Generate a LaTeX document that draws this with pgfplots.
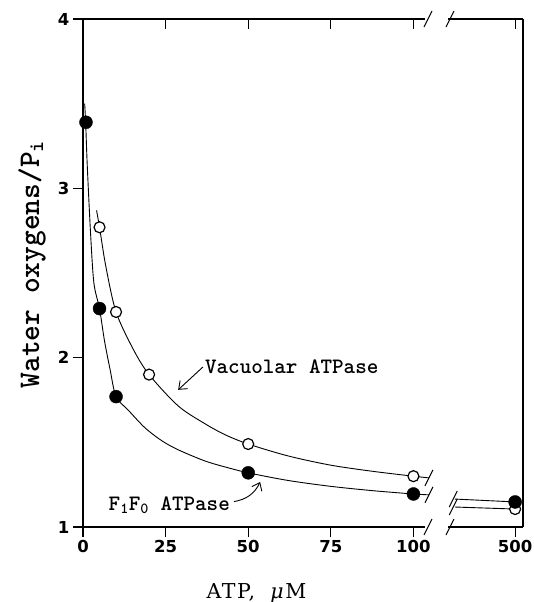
\documentclass[border=0pt]{standalone}
\usepackage{fontspec}
\usepackage{pgfplots}
\usepackage{pgfplotstable}
\pgfplotsset{compat=1.18}
\usetikzlibrary{arrows.meta}
\newfontfamily\ticksf{DejaVu Sans}
\newfontfamily\xlabf{DejaVu Serif}[LetterSpace=8]

% fitted curves
\pgfplotstableread{
x y
0.5 3.50
0.8 3.39
1.3 3.13
2.3 2.73
3.3 2.44
5 2.29
6.5 2.10
8.2 1.93
10 1.77
13.7 1.69
18.8 1.585
23.8 1.51
28.8 1.456
36.9 1.39
43.5 1.352
50 1.32
62 1.275
75 1.24
88 1.214
100 1.195
104.7 1.19
}\fcurve
\pgfplotstableread{
x y
4.1 2.87
5 2.77
6.9 2.54
10 2.27
15.2 2.05
20 1.90
28.8 1.715
36.9 1.61
43 1.545
50 1.49
62 1.42
75 1.365
88 1.328
100 1.30
104.7 1.29
}\vcurve
% measured points
\pgfplotstableread{
x y
0.9 3.39
5 2.29
10 1.77
50 1.32
100 1.195
}\fpts
\pgfplotstableread{
x y
5 2.77
10 2.27
20 1.90
50 1.49
100 1.30
}\vpts

\tikzset{brk/.style={line width=1pt}}

\begin{document}
\begin{tikzpicture}
\path[use as bounding box] (-83pt,-75pt) rectangle (451pt,527pt);
\pgfplotsset{
  panel/.style={
    scale only axis, height=508pt, ymin=1, ymax=4, clip=false,
    separate axis lines,
    axis line style={line width=1.1pt},
    major tick style={line width=1.1pt, black},
    major tick length=10pt,
    tick label style={font=\ticksf\bfseries\fontsize{16.5}{16.5}\selectfont},
    /pgf/number format/assume math mode=true,
  },
  curve/.style={black, line width=0.9pt},
  fmark/.style={only marks, mark=*, mark size=6.5pt, black},
  vmark/.style={only marks, mark=*, mark size=5.5pt,
    mark options={draw=black, fill=white, line width=1.2pt}},
}
% main panel
\begin{axis}[panel, at={(0pt,0pt)}, anchor=south west, width=342pt,
  xmin=0, xmax=103.5,
  axis x line*=bottom, axis y line*=left, tick align=outside,
  xtick={0,25,50,75,100}, ytick={1,2,3,4},
  ylabel={Water oxygens/P\textsubscript{i}},
  ylabel style={at={(axis description cs:-0.149,0.517)}, anchor=center,
    font=\ttfamily\bfseries\fontsize{30}{30}\selectfont},
]
  \addplot[curve, smooth, tension=0.5] table {\fcurve};
  \addplot[curve, smooth, tension=0.5] table {\vcurve};
  \addplot[fmark] table {\fpts};
  \addplot[vmark] table {\vpts};
  % broken-axis marks
  \draw[brk, shift={(axis cs:104.4,1)}] (-4pt,-8pt) -- (4pt,8pt);
  \draw[brk, shift={(axis cs:104.4,4)}] (-4pt,-8pt) -- (4pt,8pt);
  \draw[brk, shift={(axis cs:104.7,1.29)}] (-4pt,-8pt) -- (4pt,8pt);
  \draw[brk, shift={(axis cs:104.7,1.19)}] (-4pt,-8pt) -- (4pt,8pt);
  % x axis title
  \node[anchor=base, inner sep=0, font=\xlabf\fontsize{20.5}{20.5}\selectfont]
    at (axis cs:52.5,0.58) {ATP,\hspace{0.35em} \textit{μ}M};
  % labels
  \node[anchor=west, inner sep=0, font=\ttfamily\bfseries\fontsize{22}{22}\selectfont]
    at (axis cs:36.9,1.945) {Vacuolar ATPase};
  \draw[line width=0.9pt, -{Straight Barb[length=7pt,width=11pt]}]
    (axis cs:36.3,1.945) -- (axis cs:28.8,1.81);
  \node[anchor=base east, inner sep=0, font=\ttfamily\bfseries\fontsize{22}{22}\selectfont]
    at (axis cs:44.5,1.10) {F\textsubscript{1}F\textsubscript{0} ATPase};
  \draw[line width=0.9pt, -{Straight Barb[length=7pt,width=11pt]}]
    (axis cs:45.7,1.15) to[out=10, in=-115] (axis cs:53.6,1.266);
\end{axis}
\begin{axis}[panel, at={(0pt,0pt)}, anchor=south west, width=342pt,
  xmin=0, xmax=103.5,
  axis x line*=top, axis y line=none, xtick align=inside,
  xtick={0,25,50,75,100}, xticklabels={}, ytick=\empty,
]
\end{axis}
% 500 uM panel
\begin{axis}[panel, at={(365pt,0pt)}, anchor=south west, width=75pt,
  xmin=479.6, xmax=502.4,
  axis x line*=bottom, axis y line*=right, tick align=outside,
  xtick={500}, ytick=\empty,
]
  \addplot[curve] coordinates {(481.7,1.165) (500,1.148)};
  \addplot[curve] coordinates {(481.7,1.118) (500,1.106)};
  \addplot[vmark] coordinates {(500,1.106)};
  \addplot[fmark] coordinates {(500,1.148)};
  \draw[brk, shift={(axis cs:480.2,1)}] (-4pt,-8pt) -- (4pt,8pt);
  \draw[brk, shift={(axis cs:480.2,4)}] (-4pt,-8pt) -- (4pt,8pt);
  \draw[brk, shift={(axis cs:481.2,1.165)}] (-4pt,-8pt) -- (4pt,8pt);
  \draw[brk, shift={(axis cs:481.2,1.118)}] (-4pt,-8pt) -- (4pt,8pt);
\end{axis}
\begin{axis}[panel, at={(365pt,0pt)}, anchor=south west, width=75pt,
  xmin=479.6, xmax=502.4,
  axis x line*=top, axis y line=none, xtick align=inside,
  xtick={500}, xticklabels={}, ytick=\empty,
]
\end{axis}
\end{tikzpicture}
\end{document}
